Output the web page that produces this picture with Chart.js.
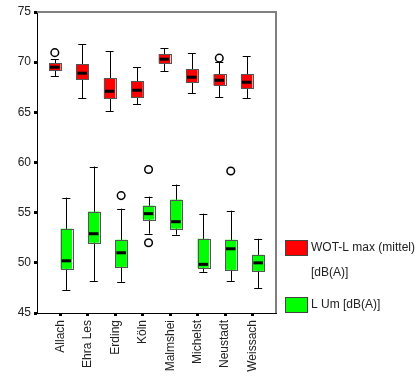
<!DOCTYPE html>
<html>
<head>
<meta charset="utf-8">
<script src="https://cdn.jsdelivr.net/npm/chart.js@4/dist/chart.umd.min.js"></script>
<style>
  html, body { margin: 0; padding: 0; background: #fff; }
  #wrap { width: 416px; height: 376px; }
</style>
</head>
<body>
<div id="wrap"><canvas id="chart"></canvas></div>
<script>
"use strict";

// Messorte (x-Achse)
const categories = ["Allach", "Ehra Les", "Erding", "Köln", "Malmshei", "Michelst", "Neustadt", "Weissach"];

// WOT-L max (mittel) [dB(A)] - Boxplot-Kennwerte
const redMin = [68.6, 66.4, 65.1, 65.8, 69.1, 66.9, 66.5, 66.4];
const redQ1  = [69.2, 68.3, 66.4, 66.5, 69.9, 68.0, 67.7, 67.4];
const redMed = [69.5, 68.9, 67.1, 67.2, 70.3, 68.5, 68.2, 68.0];
const redQ3  = [69.9, 69.8, 68.4, 68.1, 70.8, 69.3, 68.8, 68.8];
const redMax = [70.3, 71.8, 71.1, 69.5, 71.4, 70.9, 70.0, 70.6];
const redOutliers = [[70.95], [], [], [], [], [], [70.4], []];

// L Um [dB(A)]
const greenMin = [47.3, 48.2, 48.1, 52.9, 52.8, 49.1, 48.2, 47.5];
const greenQ1  = [49.4, 52.0, 49.6, 54.3, 53.4, 49.5, 49.3, 49.2];
const greenMed = [50.2, 52.9, 51.0, 54.9, 54.1, 49.85, 51.4, 50.0];
const greenQ3  = [53.4, 55.1, 52.3, 55.7, 56.3, 52.4, 52.3, 50.8];
const greenMax = [56.5, 59.6, 55.4, 56.6, 57.8, 54.9, 55.2, 52.4];
const greenOutliers = [[], [], [56.7], [59.3, 52.0], [], [], [59.15], []];

const legendLines = [["WOT-L max (mittel)", "[dB(A)]"], ["L Um [dB(A)]"]];
const yTicks = [45, 50, 55, 60, 65, 70, 75];

const boxW = 0.42;   // Breite einer Box in Kategorie-Einheiten
const series = [
  { color: "#ff0000", shift: -boxW / 2, min: redMin, q1: redQ1, med: redMed, q3: redQ3, max: redMax, out: redOutliers },
  { color: "#00ff00", shift: boxW / 2, min: greenMin, q1: greenQ1, med: greenMed, q3: greenQ3, max: greenMax, out: greenOutliers },
];

const outlierPoints = (s) => {
  const pts = [];
  s.out.forEach((vals, i) => vals.forEach(v => pts.push({ x: i + s.shift, y: v })));
  return pts;
};

// zeichnet Whisker, Boxen und Mediane ueber die Skalen
const boxPlugin = {
  id: "boxes",
  beforeDatasetsDraw(chart) {
    const { ctx, scales: { x, y } } = chart;
    ctx.save();
    for (const s of series) {
      categories.forEach((_, i) => {
        const cx = x.getPixelForValue(i + s.shift);
        const left = x.getPixelForValue(i + s.shift - boxW / 2);
        const right = x.getPixelForValue(i + s.shift + boxW / 2);
        const capHalf = 4;
        const yMin = y.getPixelForValue(s.min[i]);
        const yMax = y.getPixelForValue(s.max[i]);
        const yQ1 = y.getPixelForValue(s.q1[i]);
        const yQ3 = y.getPixelForValue(s.q3[i]);
        const yMed = y.getPixelForValue(s.med[i]);

        ctx.strokeStyle = "#000";
        ctx.lineWidth = 1;
        ctx.beginPath();
        ctx.moveTo(Math.round(cx) + 0.5, yMax);
        ctx.lineTo(Math.round(cx) + 0.5, yMin);
        ctx.moveTo(cx - capHalf, Math.round(yMax) + 0.5);
        ctx.lineTo(cx + capHalf, Math.round(yMax) + 0.5);
        ctx.moveTo(cx - capHalf, Math.round(yMin) + 0.5);
        ctx.lineTo(cx + capHalf, Math.round(yMin) + 0.5);
        ctx.stroke();

        ctx.fillStyle = s.color;
        ctx.fillRect(left, yQ3, right - left, yQ1 - yQ3);
        ctx.strokeStyle = "#555";
        ctx.strokeRect(Math.round(left) + 0.5, Math.round(yQ3) + 0.5, Math.round(right - left), Math.round(yQ1 - yQ3));

        ctx.strokeStyle = "#000";
        ctx.lineWidth = 3;
        ctx.beginPath();
        ctx.moveTo(left + 1, yMed);
        ctx.lineTo(right - 1, yMed);
        ctx.stroke();
      });
    }
    ctx.restore();
  },
  afterDraw(chart) {
    const { ctx, chartArea: a } = chart;
    ctx.save();
    // obere und rechte Rahmenlinie
    ctx.strokeStyle = "#808080";
    ctx.lineWidth = 2;
    ctx.beginPath();
    ctx.moveTo(a.left, a.top);
    ctx.lineTo(a.right, a.top);
    ctx.lineTo(a.right, a.bottom);
    ctx.stroke();

    // Legende
    ctx.font = "12px 'Liberation Sans', Arial, sans-serif";
    ctx.textBaseline = "middle";
    const tops = [240, 297];
    series.forEach((s, k) => {
      ctx.fillStyle = s.color;
      ctx.fillRect(285, tops[k], 22, 15);
      ctx.strokeStyle = "#444";
      ctx.lineWidth = 1;
      ctx.strokeRect(285.5, tops[k] + 0.5, 22, 15);
      ctx.fillStyle = "#222";
      legendLines[k].forEach((line, j) => {
        ctx.fillText(line, 311, tops[k] + 8 + j * 25);
      });
    });
    ctx.restore();
  }
};

const tickFont = { family: "'Liberation Sans', Arial, sans-serif", size: 12 };

new Chart(document.getElementById("chart"), {
  type: "scatter",
  data: {
    datasets: series.map(s => ({
      data: outlierPoints(s),
      pointStyle: "circle",
      pointRadius: 3.8,
      pointBorderWidth: 1.5,
      pointBackgroundColor: "#fff",
      pointBorderColor: "#000",
    })),
  },
  options: {
    responsive: true,
    maintainAspectRatio: false,
    animation: false,
    layout: { padding: { top: 12, right: 140, left: 0, bottom: 0 } },
    plugins: { legend: { display: false }, tooltip: { enabled: false } },
    scales: {
      x: {
        type: "linear",
        min: -0.86,
        max: 7.86,
        afterBuildTicks: (scale) => { scale.ticks = categories.map((_, i) => ({ value: i })); },
        afterFit: (scale) => { scale.height = 63; },
        ticks: {
          autoSkip: false,
          minRotation: 90,
          maxRotation: 90,
          padding: 4,
          color: "#222",
          font: tickFont,
          callback: (v) => categories[v] ?? "",
        },
        grid: { drawOnChartArea: false, tickLength: 3, tickWidth: 3, tickColor: "#000" },
        border: { color: "#000", width: 1 },
      },
      y: {
        min: 45,
        max: 75,
        afterBuildTicks: (scale) => { scale.ticks = yTicks.map(v => ({ value: v })); },
        afterFit: (scale) => { scale.width = 37; },
        ticks: { padding: 3, color: "#222", font: tickFont },
        grid: { drawOnChartArea: false, tickLength: 3, tickWidth: 3, tickColor: "#000" },
        border: { color: "#000", width: 1 },
      },
    },
  },
  plugins: [boxPlugin],
});
</script>
</body>
</html>
